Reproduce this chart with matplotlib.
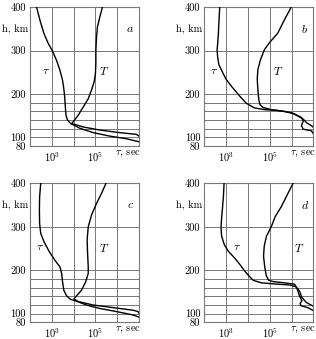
import matplotlib.pyplot as plt
import numpy as np

plt.rcParams['font.family'] = 'serif'
plt.rcParams['font.serif'] = ['cmr10', 'DejaVu Serif']
plt.rcParams['mathtext.fontset'] = 'cm'
plt.rcParams['axes.formatter.use_mathtext'] = True

# curves: heights (km) and log10 of time (sec)
h_tau_a = [400, 369, 339, 316, 300, 277, 255, 232, 212, 193, 170, 151, 140, 132, 121, 111, 103, 97, 90]
lg_tau_a = [2.30, 2.46, 2.64, 2.84, 3.02, 3.22, 3.37, 3.49, 3.55, 3.59, 3.62, 3.65, 3.72, 3.86, 4.29, 4.90, 5.66, 6.42, 7.0]
h_T_a = [400, 377, 354, 331, 300, 270, 247, 228, 209, 189, 170, 151, 138, 132, 124, 117, 111, 107, 103]
lg_T_a = [5.32, 5.20, 5.09, 5.05, 5.02, 5.02, 5.00, 4.94, 4.82, 4.67, 4.44, 4.21, 4.01, 3.91, 4.44, 5.20, 6.12, 6.88, 7.0]

h_tau_b = [400, 371, 340, 318, 302, 287, 268, 253, 234, 217, 195, 179, 168, 164, 162, 157, 146, 138, 127, 119, 115, 108]
lg_tau_b = [2.70, 2.67, 2.64, 2.61, 2.58, 2.60, 2.66, 2.80, 2.99, 3.25, 3.62, 3.91, 4.29, 4.75, 5.36, 5.98, 6.45, 6.53, 6.45, 6.53, 6.91, 7.0]
h_T_b = [400, 371, 340, 318, 302, 279, 256, 234, 211, 188, 176, 169, 164, 160, 154, 142, 134, 127, 123]
lg_T_b = [5.98, 5.67, 5.36, 4.98, 4.75, 4.57, 4.45, 4.42, 4.45, 4.49, 4.54, 4.68, 5.06, 5.67, 6.13, 6.53, 6.68, 6.91, 7.0]

h_tau_c = [400, 369, 339, 308, 285, 266, 243, 223, 208, 193, 174, 154, 141, 133, 130, 120, 112, 105, 97, 92]
lg_tau_c = [2.49, 2.44, 2.43, 2.44, 2.49, 2.64, 2.88, 3.14, 3.37, 3.45, 3.49, 3.55, 3.68, 3.86, 4.06, 4.59, 5.20, 5.96, 6.73, 7.0]
h_T_c = [400, 377, 354, 327, 300, 270, 239, 208, 193, 174, 154, 141, 134, 128, 120, 114, 108, 105, 101]
lg_T_c = [5.48, 5.28, 5.05, 4.82, 4.67, 4.62, 4.64, 4.67, 4.67, 4.56, 4.36, 4.13, 4.01, 4.21, 4.90, 5.81, 6.73, 6.95, 7.0]

h_tau_d = [400, 370, 339, 316, 297, 278, 259, 244, 229, 213, 198, 187, 177, 171, 168, 166, 162, 152, 137, 126, 117]
lg_tau_d = [2.90, 2.87, 2.82, 2.78, 2.76, 2.79, 2.91, 3.09, 3.37, 3.63, 3.85, 4.04, 4.23, 4.61, 5.37, 5.92, 6.21, 6.36, 6.47, 6.67, 7.0]
h_T_d = [400, 377, 347, 324, 301, 278, 255, 232, 206, 187, 177, 174, 171, 168, 156, 141, 130, 123, 118, 114, 107]
lg_T_d = [6.06, 5.83, 5.53, 5.25, 5.07, 4.84, 4.74, 4.71, 4.77, 4.84, 4.95, 5.15, 5.68, 6.13, 6.26, 6.36, 6.47, 6.38, 6.44, 6.74, 7.0]

panels = [
    ('a', h_tau_a, lg_tau_a, h_T_a, lg_T_a, (2.72, 5.38)),
    ('b', h_tau_b, lg_tau_b, h_T_b, lg_T_b, (2.46, 5.40)),
    ('c', h_tau_c, lg_tau_c, h_T_c, lg_T_c, (2.46, 5.38)),
    ('d', h_tau_d, lg_tau_d, h_T_d, lg_T_d, (3.50, 6.36)),
]

grid_h = [80, 100, 120, 140, 160, 180, 200, 300, 400]
ytick_vals = [80, 100, 200, 300, 400]
xtick_vals = [1e3, 1e5]
xtick_labels = ['$10^3$', '$10^5$']

fig = plt.figure(figsize=(3.16, 3.39), dpi=100)
pos = [(0.095, 0.569), (0.647, 0.569), (0.095, 0.049), (0.647, 0.049)]
gc = '#777777'

for (letter, ht, lt, hT, lT, lblx), (l, b) in zip(panels, pos):
    ax = fig.add_axes([l, b, 0.345, 0.41])
    ax.set_xscale('log')
    ax.set_xlim(1e2, 1e7)
    ax.set_ylim(80, 400)
    for g in grid_h:
        ax.axhline(g, color=gc, lw=0.7, zorder=1)
    for d in range(3, 7):
        ax.axvline(10.0 ** d, color=gc, lw=0.7, zorder=1)
    for s in ax.spines.values():
        s.set_color(gc)
        s.set_linewidth(0.8)
    ax.plot(10 ** np.array(lt), ht, color='black', lw=1.0, zorder=3)
    ax.plot(10 ** np.array(lT), hT, color='black', lw=1.0, zorder=3)
    ax.set_yticks(ytick_vals)
    ax.set_yticklabels([str(v) for v in ytick_vals], fontsize=7.5)
    ax.set_xticks(xtick_vals)
    ax.set_xticklabels(xtick_labels, fontsize=7.5)
    ax.minorticks_off()
    ax.tick_params(length=0, pad=3)
    ax.text(-0.02, 350, 'h, km', transform=ax.get_yaxis_transform(),
            ha='right', va='center', fontsize=7.5)
    ax.text(10 ** 6.5, 62, r'$\tau$, sec', ha='center', va='center', fontsize=7.5)
    ax.text(10 ** lblx[0], 252, r'$\tau$', ha='center', va='center', fontsize=8.5)
    ax.text(10 ** lblx[1], 252, r'$T$', ha='center', va='center', fontsize=8.5)
    ax.text(10 ** 6.6, 350, r'$' + letter + '$', ha='center', va='center', fontsize=8.5)

fig.savefig('out.png', dpi=100)
